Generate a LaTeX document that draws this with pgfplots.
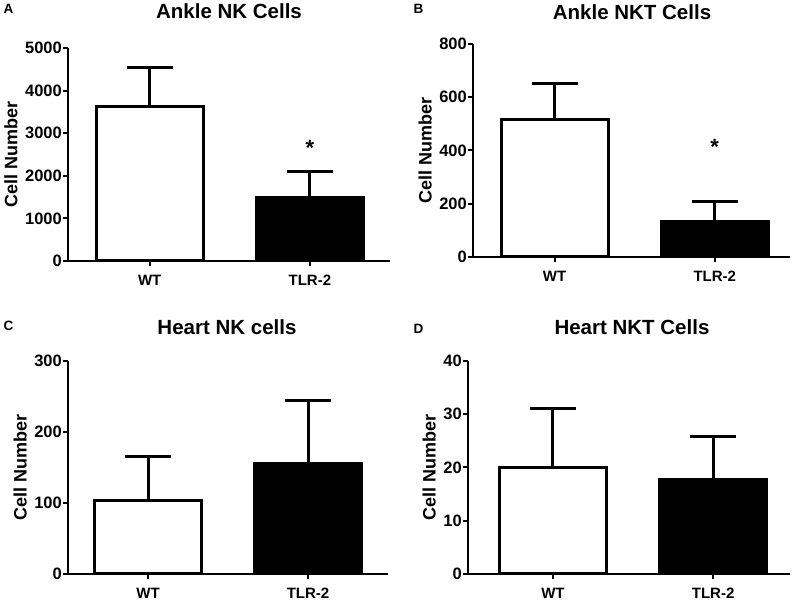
\documentclass[border=0pt]{standalone}
\usepackage{pgfplots}
\pgfplotsset{compat=1.18}
\usepackage{fontspec}
\setmainfont{Liberation Sans}

\pgfplotsset{
  cellbar/.style={
    scale only axis, width=322pt, height=213pt,
    anchor=south west,
    axis x line*=bottom, axis y line*=left,
    axis line style={line width=2pt},
    ybar, bar width=0.67, bar shift=0pt,
    xmin=-0.51, xmax=1.5, ymin=0,
    xtick={0,1}, xticklabels={WT,TLR-2},
    tick align=outside, major tick length=5pt,
    tick style={line width=2pt, black},
    yticklabel style={inner sep=1pt, font=\bfseries\fontsize{16.5}{16.5}\selectfont},
    xticklabel style={inner sep=1pt, text depth=0pt, yshift=-8pt, font=\bfseries\fontsize{15}{15}\selectfont},
    /pgf/number format/assume math mode=true,
    /pgf/number format/1000 sep={},
    ylabel={Cell Number},
    ylabel style={font=\bfseries\fontsize{18}{18}\selectfont, yshift=3pt},
    clip=false,
    error bars/y dir=plus, error bars/y explicit,
    error bars/error mark=|,
    error bars/error bar style={line width=3pt, black},
    error bars/error mark options={mark size=23pt, line width=3pt, black},
  },
  wtbar/.style={fill=white, draw=black, line width=3pt},
  tlrbar/.style={fill=black, draw=black, line width=3pt},
}

\begin{document}
\begin{tikzpicture}
\useasboundingbox (0pt,0pt) rectangle (798pt,601pt);

% panel titles and letters
\tikzset{ttl/.style={anchor=base, font=\bfseries\fontsize{20.5}{20.5}\selectfont},
         lett/.style={font=\bfseries\fontsize{13.5}{13.5}\selectfont}}
\node[ttl] at (229pt,582pt) {Ankle NK Cells};
\node[ttl] at (632pt,581pt) {Ankle NKT Cells};
\node[ttl] at (227pt,266pt) {Heart NK cells};
\node[ttl] at (632pt,266pt) {Heart NKT Cells};
\node[lett] at (8.5pt,592pt) {A};
\node[lett] at (418.5pt,592pt) {B};
\node[lett] at (8.5pt,275pt) {C};
\node[lett] at (418.5pt,272pt) {D};

% A: ankle NK
\begin{axis}[cellbar, at={(68pt,340pt)}, ymax=5000, ytick={0,1000,...,5000}]
  \addplot[wtbar] coordinates {(0,3615) += (0,916)};
  \addplot[tlrbar] coordinates {(1,1479) += (0,610)};
  \node[font=\bfseries\fontsize{22}{22}\selectfont] at (axis cs:1,2650) {*};
\end{axis}

% B: ankle NKT
\begin{axis}[cellbar, at={(473pt,344pt)}, xmin=-0.51, xmax=1.47, width=317pt, ymax=800, ytick={0,200,...,800}]
  \addplot[wtbar] coordinates {(0,515) += (0,138)};
  \addplot[tlrbar] coordinates {(1,135) += (0,75)};
  \node[font=\bfseries\fontsize{22}{22}\selectfont] at (axis cs:1,415) {*};
\end{axis}

% C: heart NK
\begin{axis}[cellbar, at={(68pt,27pt)}, xmin=-0.5, xmax=1.5, width=320pt, ymax=300, ytick={0,100,200,300}]
  \addplot[wtbar] coordinates {(0,104) += (0,61)};
  \addplot[tlrbar] coordinates {(1,156) += (0,88)};
\end{axis}

% D: heart NKT
\begin{axis}[cellbar, at={(468pt,27pt)}, xmin=-0.53, xmax=1.48, ymax=40, ytick={0,10,...,40}]
  \addplot[wtbar] coordinates {(0,20.0) += (0,11.1)};
  \addplot[tlrbar] coordinates {(1,17.7) += (0,8.1)};
\end{axis}
\end{tikzpicture}
\end{document}
